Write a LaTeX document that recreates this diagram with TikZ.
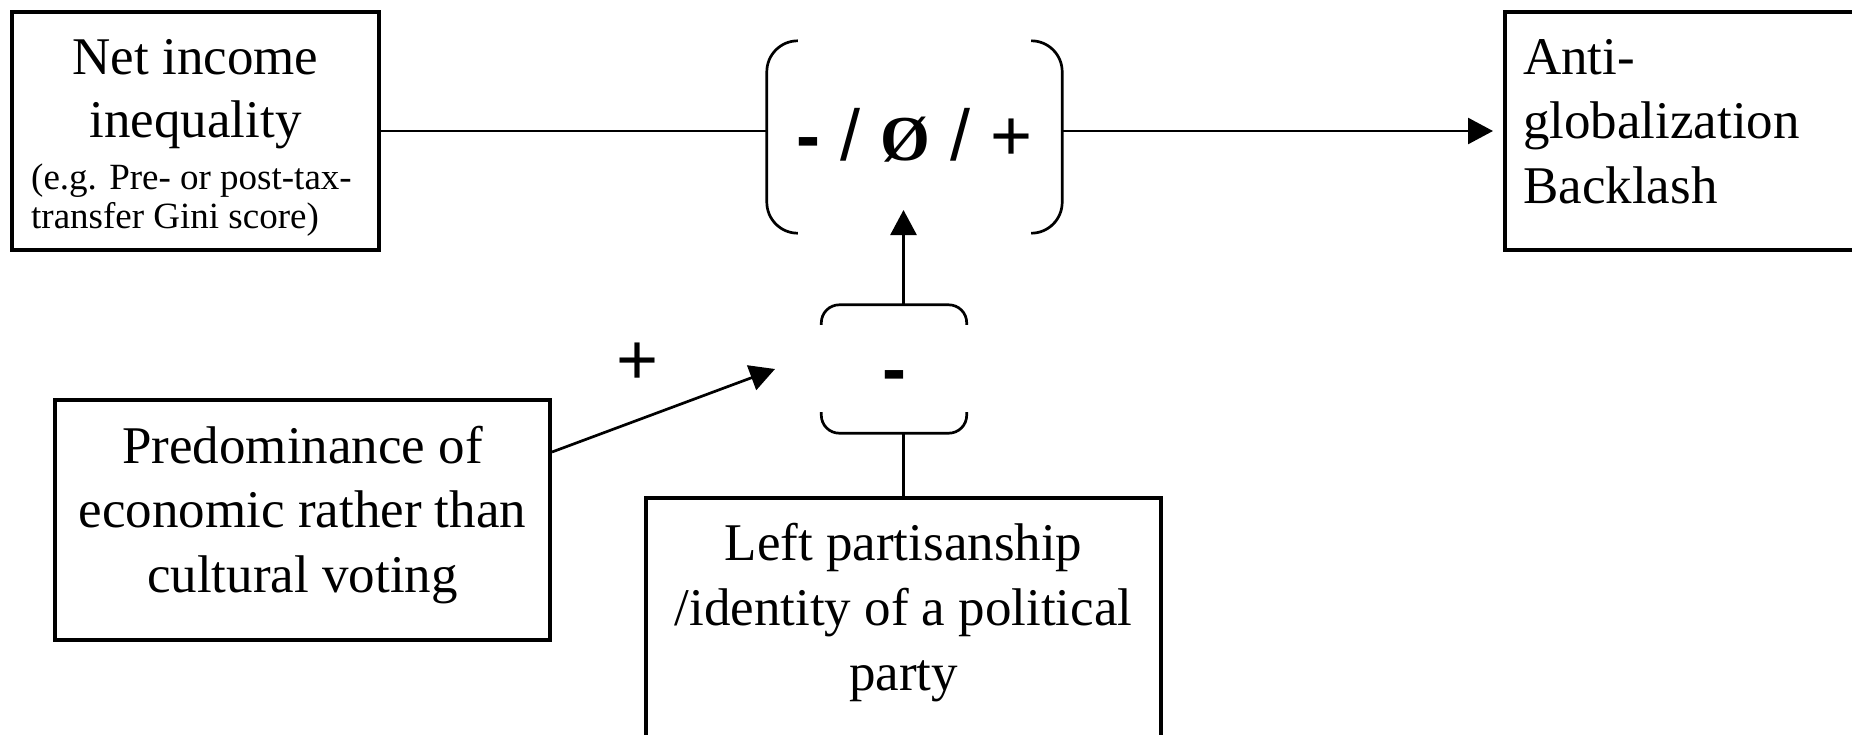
\documentclass[tikz,border=0pt]{standalone}
\usepackage{fontspec}
\setmainfont{Liberation Serif}
\newfontfamily\sansf{Liberation Sans}
\usetikzlibrary{arrows.meta,calc}
\begin{document}
\begin{tikzpicture}[x=1pt,y=-1pt,
  box/.style={draw, line width=4pt, rectangle, inner sep=0pt},
  txt/.style={anchor=base, inner sep=0pt, font=\fontsize{53}{62}\selectfont},
  txtl/.style={anchor=base west, inner sep=0pt, font=\fontsize{53}{62}\selectfont},
  smalltxt/.style={anchor=base west, inner sep=0pt, font=\fontsize{37}{40}\selectfont},
  sym/.style={inner sep=0pt, font=\sansf\fontsize{72}{80}\selectfont},
  link/.style={line width=2.7pt},
  arr/.style={link, -{Triangle[length=25pt,width=26pt]}},
  brk/.style={line width=2.7pt}
]
\useasboundingbox (0,0) rectangle (1852,734);

% boxes
\node[box, minimum width=367pt, minimum height=238pt] (b1) at (195.5,131) {};
\node[box, minimum width=365pt, minimum height=238pt] (b2) at (1687.5,131) {};
\node[box, minimum width=495pt, minimum height=240pt] (pd) at (302.5,520) {};
\node[box, minimum width=515pt, minimum height=262pt] (pb) at (903.5,629) {};

% box texts
\node[txt] (t1a) at (195.5,74.5) {Net income};
\node[txt] (t1b) at (195.5,137) {inequality};
\node[smalltxt] (t1c) at (31,189.5) {(e.g. Pre- or post-tax-};
\node[smalltxt] (t1d) at (31,228) {transfer Gini score)};

\node[txtl] (t2a) at (1523,74.5) {Anti-};
\node[txtl] (t2b) at (1523,138) {globalization};
\node[txtl] (t2c) at (1523,203) {Backlash};

\node[txt] (t3a) at (302.5,463) {Predominance of};
\node[txt] (t3b) at (302.5,527.5) {economic rather than};
\node[txt] (t3c) at (302.5,592) {cultural voting};

\node[txt] (t4a) at (903.5,560.5) {Left partisanship};
\node[txt] (t4b) at (903.5,625) {/identity of a political};
\node[txt] (t4c) at (903.5,690) {party};

% moderator brackets
\node[sym, minimum width=295pt, minimum height=192pt, text height=46pt, text depth=0pt] (mb) at (914.5,137)
  {\textbf{-} / {\rmfamily\bfseries\fontsize{64}{70}\selectfont Ø} / +};
\draw[brk, rounded corners=31pt] ([xshift=31pt]mb.north west) -- (mb.north west) -- (mb.south west) -- ([xshift=31pt]mb.south west);
\draw[brk, rounded corners=31pt] ([xshift=-31pt]mb.north east) -- (mb.north east) -- (mb.south east) -- ([xshift=-31pt]mb.south east);

\node[sym, minimum width=145pt, minimum height=128pt, text height=48pt, text depth=0pt] (lb) at (894,369) {\textbf{-}};
\draw[brk, rounded corners=18pt] ([yshift=-20pt]lb.north west) -- (lb.north west) -- (lb.north east) -- ([yshift=-20pt]lb.north east);
\draw[brk, rounded corners=18pt] ([yshift=21pt]lb.south west) -- (lb.south west) -- (lb.south east) -- ([yshift=21pt]lb.south east);

\node[sym] (plus) at (638,364) {+};

% connectors
\coordinate (tipA) at (903.5,210);
\coordinate (pdout) at ($(pd.north east)+(0,54)$);
\coordinate (tipB) at (775,369);

\draw[link] (b1.east) -- (b1.east -| mb.west);
\draw[arr, shorten >=10pt] (b2.west -| mb.east) -- (b2.west);
\draw[link] (pb.north) -- (pb.north |- lb.south);
\draw[arr] (pb.north |- lb.north) -- (tipA);
\draw[arr] (pdout) -- (tipB);
\end{tikzpicture}
\end{document}
